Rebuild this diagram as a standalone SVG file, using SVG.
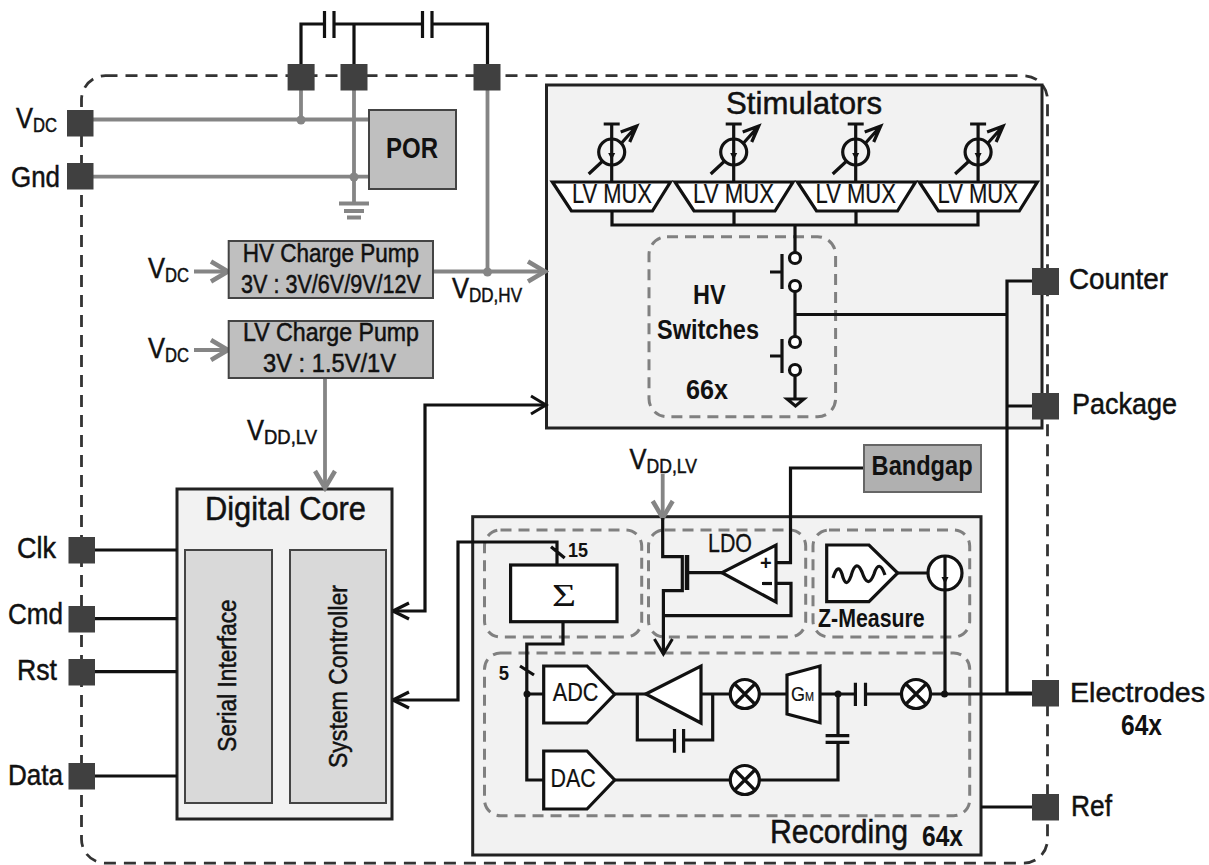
<svg xmlns="http://www.w3.org/2000/svg" xmlns:xlink="http://www.w3.org/1999/xlink" width="1209" height="865" viewBox="0 0 1209 865">
<style>
text{font-family:"Liberation Sans",Arial,sans-serif;fill:#111;stroke:#111;stroke-width:.5;font-size:30px}
.b{font-weight:bold;stroke-width:0}
.m{font-size:25px}
.s{font-size:20px}
.w{fill:none;stroke:#111;stroke-width:3.200;stroke-linejoin:miter}
.g{fill:none;stroke:#858585;stroke-width:3.800}
.dot{fill:#858585}
.kd{fill:#111}
.pad{fill:#404040}
.box{fill:#f2f2f2;stroke:#222;stroke-width:3}
.in{fill:#d9d9d9;stroke:#444;stroke-width:2}
.gb{fill:#bfbfbf;stroke:#444;stroke-width:2}
.wh{fill:#fff;stroke:#111;stroke-width:3.200}
.dash{fill:none;stroke:#808080;stroke-width:3;stroke-dasharray:11 7}
</style>
<defs>
<marker id="ak" markerUnits="userSpaceOnUse" markerWidth="20" markerHeight="24" refX="17" refY="12" orient="auto"><path d="M2 3L17 12L2 21" fill="none" stroke="#111" stroke-width="3"/></marker>
<marker id="ag" markerUnits="userSpaceOnUse" markerWidth="24" markerHeight="26" refX="20" refY="13" orient="auto"><path d="M3 3L20 13L3 23" fill="none" stroke="#858585" stroke-width="4.500"/></marker>
<g id="src"><path class="w" d="M-8 124H8M0 124V181"/><circle cx="0" cy="152" r="13" fill="none" stroke="#111" stroke-width="3.200"/><path class="kd" d="M-3.500 153H3.500L0 160Z"/><path class="w" d="M-23 174L-9 161M9 144L25 126M9 132L25 126L18 142"/></g>
<path id="mux" class="wh" d="M-59 182H59L41 211H-40Z"/>
<g id="mix"><circle r="14.500" class="wh"/><path class="w" d="M-10 -10L10 10M-10 10L10 -10"/></g>
</defs>
<rect width="1209" height="865" fill="#fff"/>
<g id="chip-boundary"><rect x="81.500" y="75.700" width="966" height="787.500" rx="24" fill="none" stroke="#333" stroke-width="2.800" stroke-dasharray="12 8"/></g>

<g id="stimulators"><rect class="box" x="546.500" y="85" width="495.500" height="343"/><text x="726" y="114" textLength="156" lengthAdjust="spacingAndGlyphs" style="font-size:32px">Stimulators</text></g>
<g id="recording"><rect class="box" x="472.700" y="516.700" width="508.300" height="338.300"/>
<text x="770" y="843" textLength="138" lengthAdjust="spacingAndGlyphs" style="font-size:33px">Recording</text><text class="b" x="922" y="846" textLength="41" lengthAdjust="spacingAndGlyphs" style="font-size:29px">64x</text></g>
<g id="digital-core"><rect class="box" x="177" y="489" width="215" height="330"/><text x="205" y="520" textLength="161" lengthAdjust="spacingAndGlyphs" style="font-size:33px">Digital Core</text></g>

<g id="groups-dashed">
<rect class="dash" x="649" y="236.700" width="186.600" height="180" rx="18"/>
<rect class="dash" x="484.500" y="530" width="157.200" height="107" rx="16"/>
<rect class="dash" x="648.500" y="530" width="157.200" height="107" rx="16"/>
<rect class="dash" x="813" y="530" width="156.700" height="107" rx="16"/>
<rect class="dash" x="484.500" y="653" width="485.200" height="162.700" rx="16"/>
</g>

<g id="connectors">
<path class="w" d="M301 81V24H324M334 24H422M432 24H487.500V81M354 24V81"/>
<path class="w" d="M324.500 11V38M334 11V38M422.500 11V38M432 11V38"/>
<path class="g" d="M93 119.500H369M93 176.700H369M301 90V119.500M354 90V203M487.500 90V272M339 203.500H369M344 211H364M347 217.500H361"/>
<circle class="dot" cx="301" cy="120" r="4.500"/><circle class="dot" cx="354" cy="177" r="4.500"/><circle class="dot" cx="487.500" cy="272" r="4.500"/>
<path class="g" d="M194 271.500H228" marker-end="url(#ag)"/>
<path class="g" d="M433 271.500H545" marker-end="url(#ag)"/>
<path class="g" d="M194 350H228" marker-end="url(#ag)"/>
<path class="g" d="M325 378V488" marker-end="url(#ag)"/>
<path class="g" d="M662.700 474V518" marker-end="url(#ag)"/>
<path class="w" d="M95 550H177M95 618.700H177M95 671.700H177M95 776H177"/>
<path class="w" d="M393 611H425V405H546" marker-end="url(#ak)"/>
<path class="w" d="M393 611L409 603M393 611L409 619"/>
<path class="w" d="M393 700H458V542H557V565M551 546.700L564.700 558"/>
<path class="w" d="M393 700L409 692M393 700L409 708"/>
<path class="w" d="M612 211V225H978V211M734 211V225M856 211V225M795 225V252M795 292V336M795 376V398M795 314.500H1007M1007 693V281H1032M1007 406H1032M1007 693H1032M782 254V289M770 272H782M782 339V373M770 356H782"/>
<path d="M787 399H804L795.500 406Z" fill="#f2f2f2" stroke="#111" stroke-width="3"/>
<path class="w" d="M864 468H790.500V562.700H776M776 583.300H791V615.700H663.400"/>
<path class="w" d="M662.700 518V556.700H682M682.300 555V590.700H663.400V654" marker-end="url(#ak)"/>
<path class="w" d="M687 555V590" style="stroke-width:4.500"/>
<path class="w" d="M687 572.700H722"/>
<path class="w" d="M563 622V644H526.800V780H544M520 666L534 675M527 694H544M614.700 694H646M637.300 694V740H674.500M683.600 740H712.700V694M701 694H730M760 694H787M820 694H855M865 694H901M931 694H1032M838 694V735.700M825.600 735.700H849.300M825.600 742.300H849.300M838 742.300V780H760M730 780H614.700M674.500 729V752.700M683.600 729V752.700M855.400 682.700V706M865.500 682.700V706"/>
<path class="w" d="M897.700 573H928M945 573V694M981 807H1032"/>
<circle class="kd" cx="527" cy="694" r="3.500"/><circle class="kd" cx="838" cy="694" r="3.500"/><circle class="kd" cx="944.500" cy="694" r="3.500"/>
</g>

<g id="pads">
<rect class="pad" x="287.600" y="64" width="27" height="26.500"/><rect class="pad" x="340.500" y="64" width="27" height="26.500"/><rect class="pad" x="473.500" y="64" width="27" height="26.500"/>
<rect class="pad" x="67" y="110" width="26.500" height="26.500"/><rect class="pad" x="67" y="163" width="26.500" height="26.500"/>
<rect class="pad" x="68.500" y="537" width="26.500" height="26.500"/><rect class="pad" x="68.500" y="606" width="26.500" height="26.500"/><rect class="pad" x="68.500" y="659" width="26.500" height="26.500"/><rect class="pad" x="68.500" y="763" width="26.500" height="26.500"/>
<rect class="pad" x="1032" y="268" width="27" height="27"/><rect class="pad" x="1032" y="393" width="27" height="26.500"/><rect class="pad" x="1032" y="680" width="27" height="26.500"/><rect class="pad" x="1032" y="794" width="27" height="26.500"/>
</g>
<g id="pad-labels">
<text x="16" y="128"><tspan textLength="17" lengthAdjust="spacingAndGlyphs">V</tspan><tspan class="s" x="33" dy="4" textLength="24" lengthAdjust="spacingAndGlyphs">DC</tspan></text>
<text x="11" y="187" textLength="49" lengthAdjust="spacingAndGlyphs">Gnd</text>
<text x="17" y="558" textLength="39" lengthAdjust="spacingAndGlyphs">Clk</text>
<text x="8" y="624" textLength="55" lengthAdjust="spacingAndGlyphs">Cmd</text>
<text x="17" y="680" textLength="40" lengthAdjust="spacingAndGlyphs">Rst</text>
<text x="8" y="785" textLength="55" lengthAdjust="spacingAndGlyphs">Data</text>
<text x="1069" y="289" textLength="99" lengthAdjust="spacingAndGlyphs">Counter</text>
<text x="1072" y="414" textLength="105" lengthAdjust="spacingAndGlyphs">Package</text>
<text x="1070" y="702" textLength="135" lengthAdjust="spacingAndGlyphs" style="font-size:28px">Electrodes</text>
<text class="b" x="1121" y="735" textLength="41" lengthAdjust="spacingAndGlyphs">64x</text>
<text x="1071" y="816" textLength="41" lengthAdjust="spacingAndGlyphs">Ref</text>
<text x="148" y="278"><tspan textLength="17" lengthAdjust="spacingAndGlyphs">V</tspan><tspan class="s" x="165" dy="4" textLength="24" lengthAdjust="spacingAndGlyphs">DC</tspan></text>
<text x="148" y="358"><tspan textLength="17" lengthAdjust="spacingAndGlyphs">V</tspan><tspan class="s" x="165" dy="4" textLength="24" lengthAdjust="spacingAndGlyphs">DC</tspan></text>
<text x="452" y="298"><tspan textLength="17" lengthAdjust="spacingAndGlyphs">V</tspan><tspan class="s" x="469" dy="4" textLength="53" lengthAdjust="spacingAndGlyphs">DD,HV</tspan></text>
<text x="247" y="440"><tspan textLength="17" lengthAdjust="spacingAndGlyphs">V</tspan><tspan class="s" x="264" dy="4" textLength="53" lengthAdjust="spacingAndGlyphs">DD,LV</tspan></text>
<text x="629.600" y="469"><tspan textLength="17" lengthAdjust="spacingAndGlyphs">V</tspan><tspan class="s" x="646.600" dy="4" textLength="50.400" lengthAdjust="spacingAndGlyphs">DD,LV</tspan></text>
</g>

<g id="por"><rect class="gb" x="369" y="110" width="87" height="79"/><text class="b" x="386" y="158" textLength="52" lengthAdjust="spacingAndGlyphs" style="font-size:29px">POR</text></g>
<g id="hv-charge-pump"><rect class="gb" x="228.700" y="241" width="204.300" height="57"/><text class="m" x="242.700" y="261.700" textLength="176.300" lengthAdjust="spacingAndGlyphs">HV Charge Pump</text><text class="m" x="241" y="293" textLength="180" lengthAdjust="spacingAndGlyphs">3V : 3V/6V/9V/12V</text></g>
<g id="lv-charge-pump"><rect class="gb" x="228.700" y="321" width="204.300" height="57"/><text class="m" x="243" y="341" textLength="176" lengthAdjust="spacingAndGlyphs">LV Charge Pump</text><text class="m" x="263" y="372" textLength="133" lengthAdjust="spacingAndGlyphs">3V : 1.5V/1V</text></g>
<g id="serial-interface"><rect class="in" x="185" y="550" width="87" height="253"/><text class="m" transform="translate(236 751.700) rotate(-90)" textLength="152.400" lengthAdjust="spacingAndGlyphs">Serial Interface</text></g>
<g id="system-controller"><rect class="in" x="290" y="550" width="96" height="253"/><text class="m" transform="translate(346.700 768) rotate(-90)" textLength="183" lengthAdjust="spacingAndGlyphs">System Controller</text></g>

<g id="current-sources">
<use xlink:href="#src" href="#src" x="611.700"/><use xlink:href="#src" href="#src" x="733.700"/><use xlink:href="#src" href="#src" x="855.700"/><use xlink:href="#src" href="#src" x="978.100"/>
</g>
<g id="lv-mux">
<use xlink:href="#mux" href="#mux" x="611.400"/><use xlink:href="#mux" href="#mux" x="734"/><use xlink:href="#mux" href="#mux" x="856.500"/><use xlink:href="#mux" href="#mux" x="978.300"/>
<text x="572" y="203" textLength="80" lengthAdjust="spacingAndGlyphs" style="font-size:27px;stroke-width:.2">LV MUX</text>
<text x="693" y="203" textLength="81" lengthAdjust="spacingAndGlyphs" style="font-size:27px;stroke-width:.2">LV MUX</text>
<text x="815.500" y="203" textLength="80.500" lengthAdjust="spacingAndGlyphs" style="font-size:27px;stroke-width:.2">LV MUX</text>
<text x="937.500" y="203" textLength="80.500" lengthAdjust="spacingAndGlyphs" style="font-size:27px;stroke-width:.2">LV MUX</text>
</g>
<g id="hv-switches">
<circle class="wh" cx="795" cy="258" r="5.500"/><circle class="wh" cx="795" cy="286" r="5.500"/><circle class="wh" cx="795" cy="342" r="5.500"/><circle class="wh" cx="795" cy="370" r="5.500"/>
<text class="b" x="693" y="304" textLength="32.600" lengthAdjust="spacingAndGlyphs" style="font-size:28px">HV</text>
<text class="b" x="657" y="339" textLength="102" lengthAdjust="spacingAndGlyphs" style="font-size:28px">Switches</text>
<text class="b" x="686" y="399" textLength="42" lengthAdjust="spacingAndGlyphs" style="font-size:28px">66x</text>
</g>
<g id="bandgap"><rect x="864" y="445" width="117" height="47" fill="#b0b0b0" stroke="#666" stroke-width="2"/><text class="b" x="871.600" y="475" textLength="101" lengthAdjust="spacingAndGlyphs" style="font-size:27px">Bandgap</text></g>
<g id="sigma"><rect class="wh" x="510.600" y="565" width="106.400" height="56.700"/><text x="552" y="606" style="font-family:'Liberation Serif','Times New Roman',serif;font-size:32px;stroke-width:0" textLength="24" lengthAdjust="spacingAndGlyphs">Σ</text><text class="b" x="568" y="556.700" textLength="20" lengthAdjust="spacingAndGlyphs" style="font-size:21px">15</text></g>
<g id="ldo"><text x="708" y="551.700" textLength="44" lengthAdjust="spacingAndGlyphs" style="font-size:25px;stroke-width:.3">LDO</text><path class="wh" d="M722 572.700L776 545V602Z"/><text class="b" x="760" y="570" style="font-size:20px">+</text><path class="w" d="M762 583.500H772"/></g>
<g id="z-measure"><path class="wh" d="M826.700 545H869L897.700 573L869 601.700H826.700Z"/><path class="w" d="M833 578Q838 562 842 574Q846 590 851 576Q856 558 862 572Q868 590 874 574Q879 558 885 575"/><text class="b" x="818" y="626.700" textLength="106.700" lengthAdjust="spacingAndGlyphs" style="font-size:26px">Z-Measure</text><circle cx="945" cy="573" r="17" fill="#fff" stroke="#111" stroke-width="3.200"/><path class="w" d="M945 556V590"/><path class="kd" d="M941.500 577H948.500L945 584Z"/></g>
<g id="adc"><path class="wh" d="M543.700 666H587L614.700 694.300L587 723H543.700Z"/><text x="552.800" y="701" textLength="45.700" lengthAdjust="spacingAndGlyphs" style="font-size:25px;stroke-width:.2">ADC</text><text class="b" x="498.700" y="680" textLength="10.300" lengthAdjust="spacingAndGlyphs" style="font-size:21px">5</text></g>
<g id="dac"><path class="wh" d="M543.700 751H587L614.700 780L587 809H543.700Z"/><text x="550.500" y="787" textLength="45.300" lengthAdjust="spacingAndGlyphs" style="font-size:25px;stroke-width:.2">DAC</text></g>
<g id="amplifier"><path class="wh" d="M645.800 694L701 666V723Z"/></g>
<g id="mixer-1"><use xlink:href="#mix" href="#mix" x="744.800" y="694"/></g>
<g id="mixer-2"><use xlink:href="#mix" href="#mix" x="916" y="694"/></g>
<g id="mixer-3"><use xlink:href="#mix" href="#mix" x="744.800" y="780"/></g>
<g id="gm"><path class="wh" d="M787 675L820 666V722.700L787 714Z"/><text x="791" y="701" style="font-size:21px;stroke-width:.2"><tspan textLength="14" lengthAdjust="spacingAndGlyphs">G</tspan><tspan x="805" style="font-size:13px" textLength="9" lengthAdjust="spacingAndGlyphs">M</tspan></text></g>
</svg>
